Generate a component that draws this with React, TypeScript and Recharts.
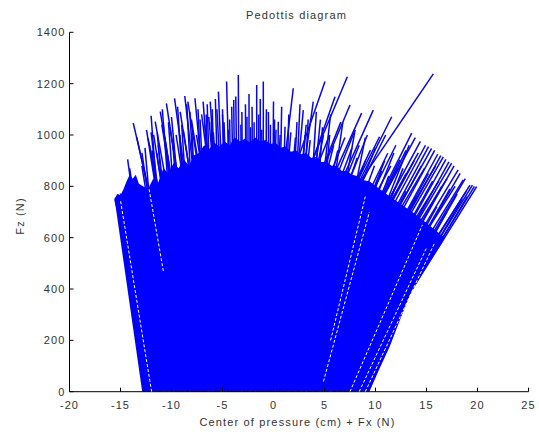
import React from 'react';
import { ComposedChart, XAxis, YAxis, Area, Line } from 'recharts';

const xTicks = [-20, -15, -10, -5, 0, 5, 10, 15, 20, 25];
const yTicks = [0, 200, 400, 600, 800, 1000, 1200, 1400];

// Solid core of the force-vector fan: x, lower Fz, upper Fz
const coreX = [-15.6, -15.3, -15.0, -14.7, -14.4, -14.1, -13.8, -13.5, -13.2, -12.8, -12.3, -11.8, -11.3, -10.8, -10.3, -9.8, -9.3, -8.8, -8.3, -7.8, -7.3, -6.8, -6.3, -5.8, -5.3, -4.8, -4.3, -3.8, -3.3, -2.8, -2.3, -1.8, -1.3, -0.8, -0.3, 0.2, 0.7, 1.2, 1.7, 2.2, 2.7, 3.2, 3.7, 4.2, 4.7, 5.2, 5.7, 6.2, 6.7, 7.2, 7.7, 8.2, 8.7, 9.4, 10.4, 11.4, 12.5, 13.6, 14.9, 16.3, 16.8];
const coreLow = [745, 694, 610, 527, 444, 361, 277, 194, 111, 0, 0, 0, 0, 0, 0, 0, 0, 0, 0, 0, 0, 0, 0, 0, 0, 0, 0, 0, 0, 0, 0, 0, 0, 0, 0, 0, 0, 0, 0, 0, 0, 0, 0, 0, 0, 0, 0, 0, 0, 0, 0, 0, 0, 0, 90, 176, 290, 398, 480, 566, 600];
const coreHigh = [752, 770, 765, 790, 820, 845, 830, 845, 810, 800, 790, 830, 815, 870, 850, 890, 870, 905, 880, 920, 930, 960, 945, 970, 955, 975, 960, 990, 975, 985, 970, 990, 975, 980, 965, 970, 950, 955, 935, 940, 925, 930, 910, 915, 895, 895, 880, 880, 860, 860, 845, 840, 825, 820, 790, 760, 730, 700, 660, 615, 600];

// Individual force vectors: centre of pressure at Fz = 0, tip at (topX, topFz)
const segBottomX = [
  -12.8, -12.6, -12.4, -12.1, -11.2, -11.0, -7.6, -8.0, -7.2, -6.8, -6.5, -6.2, -5.8, -5.4, -5.0, -4.8, -4.5, -4.2, -3.8, -3.6,
  -3.3, -2.6, -1.6, -1.0, -9.5, -9.0, -8.5, -8.0, -7.5, -7.0, -6.6, -6.0, -5.6, -5.3, -4.0, -2.0, -0.4, 0.0, 0.2, 0.4,
  -1.6, 0.4, -0.1, -5.6, -4.1, -5.7, -4.3, -3.6, -2.6, -1.9, -2.1, 1.0, 0.9, -5.5, 2.2, 3.4, 4.3, 5.0, 5.8, 6.6,
  7.3, 1.0, 1.8, 2.8, 3.4, 4.0, 5.0, 6.2, 0.0, 1.2, -1.6, -1.5, 0.0, 1.0, 2.0, 2.5, 3.0, 3.5, 4.0,
  -10.5, -10.0, -9.6, -9.2, -8.8, -8.4, -8.0, -7.6, -7.3, -7.0, -6.6, -6.2, -5.8, -5.4, -4.9, -4.4, -3.9, -3.3, -2.9, -2.4,
  -1.9, -1.3, -0.8, -0.2, 0.3, 0.8, 1.0, 1.3, 2.0, 2.5, 3.0, 3.6, -4.5, -3.9, -2.9, -2.2, -1.2, -0.8, 0.5, 1.9,
  2.5, 4.0, 3.7,
  0.5, 1.2, 1.9, 2.3, 3.0, 3.4, 3.7, 4.3, 4.8, 5.3, 5.9, 6.4, 7.1, 7.3, 1.6, 2.4, 3.5, 4.1, 5.2, 6.0,
  6.9, 7.5, 7.6, 1.5, 0.5, -0.2, 1.2, 2.5, 3.7, 4.9, 6.0, 7.1,
  -9.4, -8.4, -8.3, -7.8, -7.7, -6.8, -6.7, -6.0, -5.6, -4.8, -4.8, -3.9, -3.8, -3.6, -3.5, -4.0, -4.0, -4.0, -4.1, -4.0,
  -3.8, -3.6, -3.0, -2.6, -2.1, -1.4, -1.1, -0.3, -0.5, -0.5, -0.4, 0.0, 0.6, 0.9, 1.0, 0.0, -0.2, 0.8, -1.3, 0.3,
  0.8, 1.8, 2.6, 3.4,
];
const segTopX = [
  -15.5, -15.3, -15.0, -14.7, -14.3, -14.1, -13.75, -13.4, -12.3, -11.6, -11.1, -10.5, -9.7, -8.7, -7.7, -6.9, -6.2, -5.4, -4.6, -3.9,
  -3.45, -2.6, -1.65, -1.0, -12.9, -12.0, -11.3, -10.8, -10.0, -9.2, -8.2, -7.2, -6.5, -6.0, -5.0, -2.1, -0.5, 0.1, 0.47, 1.13,
  1.94, 2.92, 3.9, 5.05, 6.03, 7.24, 7.5, 8.64, 9.78, 11.59, 10.4, 12.4, 13.55, 15.67, 15.5, 16.65, 17.47, 18.1, 18.6, 19.26,
  19.92, 14.2, 14.8, 15.9, 16.2, 17.0, 17.8, 18.9, 12.0, 13.0, 11.0, 9.5, 11.2, 3.2, 4.6, 5.6, 6.8, 8.0, 9.0,
  -12.6, -12.0, -11.9, -11.4, -10.9, -10.3, -9.9, -9.4, -9.0, -8.5, -8.0, -7.4, -6.6, -6.1, -5.7, -5.0, -4.3, -3.7, -3.1, -2.4,
  -1.9, -1.3, -0.7, 0.0, 0.8, 1.5, 2.3, 2.6, 3.4, 4.2, 4.8, 5.5, 5.5, 6.6, 7.0, 7.9, 8.4, 9.2, 10.0, 10.9,
  11.8, 12.7, 13.3,
  13.9, 14.4, 14.9, 15.2, 15.8, 16.1, 16.4, 16.9, 17.2, 17.7, 18.3, 18.8, 19.5, 19.7, 13.8, 14.5, 15.2, 15.6, 16.5, 17.3,
  18.0, 18.5, 19.0, 13.0, 12.2, 11.5, 12.0, 13.0, 14.0, 15.0, 16.0, 17.0,
  -12.9, -12.45, -12.15, -11.75, -11.45, -10.95, -10.65, -10.15, -9.55, -9.15, -8.85, -8.4, -8.05, -7.55, -7.05, -6.75, -6.35, -5.9, -5.55, -4.85,
  -4.45, -4.1, -3.2, -2.75, -2.25, -1.45, -1.15, -0.3, 0.25, 0.65, 1.7, 2.15, 3.1, 3.6, 4.4, 4.9, 5.9, 6.3, 7.7, 8.2,
  9.0, 9.9, 10.6, 11.3,
];
const segTopFz = [
  749, 768, 772, 762, 905, 870, 1046, 990, 987, 1052, 1091, 1123, 1143, 1152, 1143, 1130, 1130, 1169, 1208, 1136,
  1234, 1071, 1195, 1208, 930, 1010, 960, 1040, 1070, 1000, 1090, 1060, 1120, 1100, 1080, 1110, 1090, 1060, 1052, 1032,
  1182, 1097, 1130, 1208, 1149, 1227, 1117, 1085, 1097, 1071, 993, 903, 1007, 1238, 948, 915, 890, 864, 825, 805,
  799, 930, 870, 880, 820, 830, 800, 780, 960, 940, 1000, 941, 929, 1040, 1060, 1080, 1050, 1020, 990,
  950, 1075, 940, 1010, 1100, 1050, 980, 1110, 1040, 1120, 1010, 1100, 1080, 1050, 1140, 1100, 1060, 1150, 1090, 1160,
  1050, 1140, 1100, 1130, 1110, 1080, 1050, 1120, 1060, 1090, 1030, 1000, 1000, 1050, 990, 1010, 960, 1000, 950, 900,
  930, 870, 960,
  990, 975, 960, 955, 940, 925, 920, 905, 895, 880, 850, 830, 805, 800, 900, 880, 850, 820, 800, 790,
  770, 750, 760, 850, 870, 880, 800, 780, 760, 740, 720, 700,
  880, 1020, 960, 1000, 930, 1040, 990, 1030, 1000, 1090, 1020, 1130, 1060, 1000, 1080, 1040, 1070, 1010, 1100, 1050,
  1020, 1110, 1040, 1120, 1030, 1080, 1020, 1040, 1020, 1000, 1010, 990, 1000, 980, 960, 1000, 960, 940, 950, 910,
  900, 880, 860, 840,
];

// Thin white gaps between neighbouring vectors inside the fan
const gapX0 = [-11.95, -10.8, 4.9, 7.5, 8.4, 5.6, 9.0];
const gapY0 = [0, 470, 40, 0, 0, 200, 0];
const gapX1 = [-15.0, -12.2, 9.4, 14.6, 15.0, 9.0, 15.8];
const gapY1 = [745, 790, 700, 650, 560, 760, 580];

const coreData = coreX.map((x, i) => ({ x, range: [coreLow[i], coreHigh[i]] }));
const segments = segBottomX.map((x0, i) => [
  { x: x0, y: 0 },
  { x: segTopX[i], y: segTopFz[i] },
]);
const gaps = gapX0.map((x0, i) => [
  { x: x0, y: gapY0[i] },
  { x: gapX1[i], y: gapY1[i] },
]);

const FONT = 'Arial, "Liberation Sans", Helvetica, sans-serif';
const TEXT = '#333';
const BLUE = '#0000ff';
const SPIKE = '#0606e8';

function XTick(props: any) {
  const { x, y, payload } = props;
  return (
    <g>
      <line x1={x} y1={y} x2={x} y2={y - 4} stroke="#000" strokeWidth={1} />
      <text x={x} y={y + 13} textAnchor="middle" dominantBaseline="central" fontSize={11} fontFamily={FONT} fill={TEXT} style={{ letterSpacing: '1.1px' }}>
        {payload.value}
      </text>
    </g>
  );
}

function YTick(props: any) {
  const { x, y, payload } = props;
  return (
    <g>
      <line x1={x} y1={y} x2={x + 4} y2={y} stroke="#000" strokeWidth={1} />
      <text x={x - 4} y={y} textAnchor="end" dominantBaseline="central" fontSize={11} fontFamily={FONT} fill={TEXT} style={{ letterSpacing: '1.1px' }}>
        {payload.value}
      </text>
    </g>
  );
}

const textStyle: React.CSSProperties = {
  position: 'absolute',
  fontFamily: FONT,
  fontSize: 11,
  letterSpacing: '1.15px',
  color: TEXT,
  lineHeight: '14px',
  textAlign: 'center',
  whiteSpace: 'nowrap',
};

export default function App() {
  return (
    <div style={{ position: 'absolute', left: 0, top: 0, width: 539, height: 432, background: '#fff' }}>
      <ComposedChart width={539} height={432} margin={{ top: 32.3, right: 10.5, bottom: 20.3, left: 29.5 }}>
        <XAxis
          type="number"
          dataKey="x"
          domain={[-20, 25]}
          ticks={xTicks}
          interval={0}
          height={20}
          tickSize={0}
          tickMargin={0}
          tickLine={false}
          tick={<XTick />}
          axisLine={{ stroke: '#000', strokeWidth: 1 }}
          allowDataOverflow
        />
        <YAxis
          type="number"
          domain={[0, 1400]}
          ticks={yTicks}
          interval={0}
          width={40}
          tickSize={0}
          tickMargin={0}
          tickLine={false}
          tick={<YTick />}
          axisLine={{ stroke: '#000', strokeWidth: 1 }}
          allowDataOverflow
        />
        {segments.map((seg, i) => (
          <Line
            key={'s' + i}
            data={seg}
            dataKey="y"
            type="linear"
            stroke={SPIKE}
            strokeWidth={1.5}
            dot={false}
            activeDot={false}
            isAnimationActive={false}
          />
        ))}
        <Area
          data={coreData}
          dataKey="range"
          type="linear"
          stroke="none"
          fill={BLUE}
          fillOpacity={1}
          isAnimationActive={false}
          zIndex={450}
        />
        {gaps.map((seg, i) => (
          <Line
            key={'g' + i}
            data={seg}
            dataKey="y"
            type="linear"
            stroke="#ffffff"
            strokeWidth={1}
            strokeDasharray="3 2"
            dot={false}
            activeDot={false}
            isAnimationActive={false}
            zIndex={500}
          />
        ))}
      </ComposedChart>
      <div style={{ ...textStyle, left: 196.5, top: 8, width: 200 }}>Pedottis diagram</div>
      <div style={{ ...textStyle, left: 147.5, top: 415, width: 300 }}>Center of pressure (cm) + Fx (N)</div>
      <div style={{ ...textStyle, left: -30, top: 209, width: 100, transform: 'rotate(-90deg)' }}>Fz (N)</div>
    </div>
  );
}
